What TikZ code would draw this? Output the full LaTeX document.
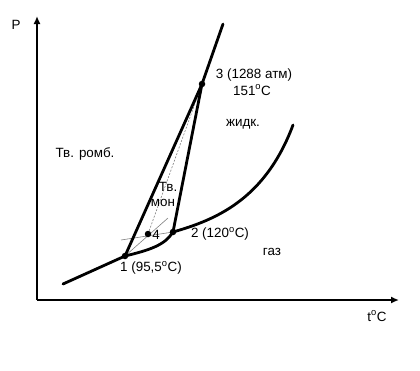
\documentclass[tikz,border=0pt]{standalone}
\usepackage{fontspec}
\setmainfont{Liberation Sans}
\usetikzlibrary{arrows.meta}

\begin{document}
\begin{tikzpicture}[
  x=1pt, y=-1pt,
  >={Latex[length=8pt,width=7pt]},
  font=\fontsize{13.4}{15}\selectfont,
  axis/.style={->, line width=2.8pt},
  phase/.style={line width=2.8pt, line join=round, line cap=round},
  meta/.style={gray, line width=0.6pt},
  metadash/.style={gray, line width=0.6pt, dash pattern=on 2pt off 1.5pt},
  dot/.style={circle, fill, inner sep=0pt, minimum size=6.5pt},
  lbl/.style={inner sep=1pt}
]
\useasboundingbox (0,0) rectangle (420,370);

\coordinate (o) at (37,300);
\coordinate (ytop) at (37,16);
\coordinate (xend) at (399,300);

\coordinate (p1) at (125,256);
\coordinate (p2) at (173,232);
\coordinate (p3) at (202,84);
\coordinate (p4) at (148,234);
\coordinate (g0) at (63,284);
\coordinate (g1) at (293,125);
\coordinate (top) at (223,24);
\coordinate (e1) at (168,218);
\coordinate (e2) at (121,240);

\draw[axis] (o) -- (ytop);
\draw[axis] (o) -- (xend);

\draw[meta] (p1) -- (e1);
\draw[meta] (e2) -- (p2);
\draw[metadash] (p3) -- (p4);

\draw[phase] (g0) -- (p1) .. controls (150,250) and (165,245) .. (p2)
  .. controls (215,220) and (265,200) .. (g1);
\draw[phase] (p1) -- (p3) -- (top);
\draw[phase] (p2) -- (p3);

\node[dot] (d1) at (p1) {};
\node[dot] (d2) at (p2) {};
\node[dot] (d3) at (p3) {};
\node[dot] (d4) at (p4) {};

\node[lbl] (plbl) at (16,25) {P};
\node[lbl] (tlbl) at (377,316) {t\textsuperscript{o}C};
\node[lbl] (romb) at (85,154) {Тв. ромб.};
\node[lbl] (liq) at (243,124) {жидк.};
\node[lbl] (tv) at (168,187) {Тв.};
\node[lbl] (mon) at (163,203) {мон};
\node[lbl] (gas) at (272,252) {газ};
\node[lbl] (l3) at (254,75) {3 (1288 атм)};
\node[lbl] (l3t) at (252,90) {151\textsuperscript{o}C};
\node[lbl] (l2) at (220,234) {2 (120\textsuperscript{o}C)};
\node[lbl] (l1) at (151,268) {1 (95,5\textsuperscript{o}C)};
\node[lbl] (l4) at (156,235) {4};
\end{tikzpicture}
\end{document}
